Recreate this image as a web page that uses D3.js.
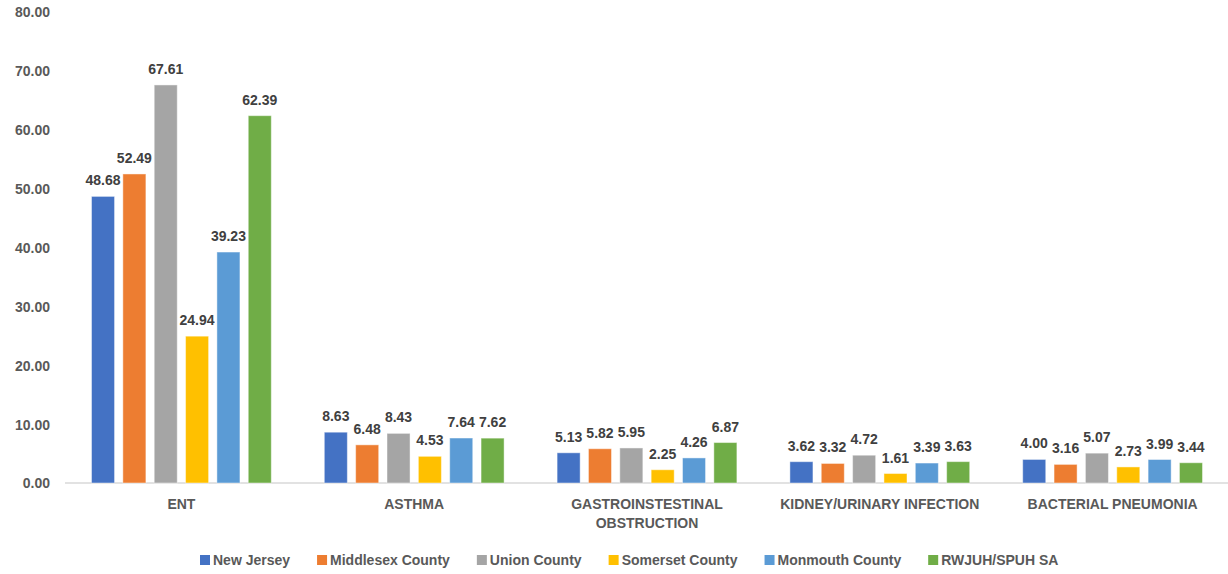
<!DOCTYPE html>
<html>
<head>
<meta charset="utf-8">
<script src="https://cdn.jsdelivr.net/npm/d3@7"></script>
<style>
  html, body { margin: 0; padding: 0; background: #ffffff; }
  svg { display: block; font-family: "Liberation Sans", Arial, sans-serif; }
</style>
</head>
<body>
<svg id="chart" width="1228" height="574"></svg>
<script>
// Rates by condition for each area
const categories = [
  ["ENT"],
  ["ASTHMA"],
  ["GASTROINSTESTINAL", "OBSTRUCTION"],
  ["KIDNEY/URINARY INFECTION"],
  ["BACTERIAL PNEUMONIA"]
];
const seriesNames = ["New Jersey", "Middlesex County", "Union County", "Somerset County", "Monmouth County", "RWJUH/SPUH SA"];
const seriesColors = ["#4472C4", "#ED7D31", "#A5A5A5", "#FFC000", "#5B9BD5", "#70AD47"];
const newJersey = [48.68, 8.63, 5.13, 3.62, 4.00];
const middlesex = [52.49, 6.48, 5.82, 3.32, 3.16];
const unionCounty = [67.61, 8.43, 5.95, 4.72, 5.07];
const somerset = [24.94, 4.53, 2.25, 1.61, 2.73];
const monmouth = [39.23, 7.64, 4.26, 3.39, 3.99];
const rwjuh = [62.39, 7.62, 6.87, 3.63, 3.44];
const yTicks = [0, 10, 20, 30, 40, 50, 60, 70, 80];

const seriesValues = [newJersey, middlesex, unionCounty, somerset, monmouth, rwjuh];
const catKeys = categories.map(c => c.join(" "));

const svg = d3.select("#chart");

const x0 = d3.scaleBand()
  .domain(catKeys)
  .range([65, 1229])
  .paddingInner(0.192)
  .paddingOuter(0.096);

const x1 = d3.scaleBand()
  .domain(seriesNames)
  .range([0, x0.bandwidth()])
  .paddingInner(0.265)
  .paddingOuter(0.1325);

const y = d3.scaleLinear().domain([0, 80]).range([483, 12]);

// Y axis labels (no axis line, no gridlines)
const yAxis = d3.axisLeft(y).tickValues(yTicks).tickFormat(d3.format(".2f")).tickSize(0).tickPadding(0);
const yg = svg.append("g").attr("transform", "translate(50,0)").call(yAxis);
yg.select(".domain").remove();
yg.selectAll("text")
  .attr("fill", "#595959")
  .style("font-size", "14px")
  .style("font-weight", "bold")
  .attr("dy", "0.35em");

// Category axis
const xAxis = d3.axisBottom(x0).tickSize(0).tickFormat(() => "");
const xg = svg.append("g").attr("transform", `translate(0,${y(0)})`).call(xAxis);
xg.select(".domain").attr("stroke", "#d9d9d9").attr("stroke-width", 1.5)
  .attr("d", "M65,0H1228");

const catLabels = svg.append("g");
categories.forEach((lines, i) => {
  const t = catLabels.append("text")
    .attr("x", x0(catKeys[i]) + x0.bandwidth() / 2)
    .attr("y", 509)
    .attr("text-anchor", "middle")
    .attr("fill", "#595959")
    .style("font-size", "14px")
    .style("font-weight", "bold");
  lines.forEach((ln, j) => {
    t.append("tspan")
      .attr("x", x0(catKeys[i]) + x0.bandwidth() / 2)
      .attr("dy", j === 0 ? 0 : 19)
      .text(ln);
  });
});

// Bars and value labels
const groups = svg.append("g").selectAll("g")
  .data(catKeys)
  .join("g")
  .attr("transform", d => `translate(${x0(d)},0)`);

groups.each(function(cat, ci) {
  const g = d3.select(this);
  const rows = seriesNames.map((s, si) => ({ s, si, v: seriesValues[si][ci] }));
  g.selectAll("rect")
    .data(rows)
    .join("rect")
    .attr("x", d => x1(d.s))
    .attr("y", d => y(d.v))
    .attr("width", x1.bandwidth())
    .attr("height", d => y(0) - y(d.v))
    .attr("fill", d => seriesColors[d.si])
    .attr("stroke", "#ffffff")
    .attr("stroke-opacity", 0.45)
    .attr("stroke-width", 1);
  g.selectAll("text.val")
    .data(rows)
    .join("text")
    .attr("class", "val")
    .attr("x", d => x1(d.s) + x1.bandwidth() / 2)
    .attr("y", d => y(d.v) - 11)
    .attr("text-anchor", "middle")
    .attr("fill", "#404040")
    .style("font-size", "14px")
    .style("font-weight", "bold")
    .text(d => d.v.toFixed(2));
});

// Legend
const legend = svg.append("g").attr("transform", "translate(200,560)");
let lx = 0;
seriesNames.forEach((name, i) => {
  const item = legend.append("g").attr("transform", `translate(${lx},0)`);
  item.append("rect")
    .attr("x", 0).attr("y", -5)
    .attr("width", 10).attr("height", 10)
    .attr("fill", seriesColors[i]);
  const t = item.append("text")
    .attr("x", 13).attr("y", 0).attr("dy", "0.35em")
    .attr("fill", "#595959")
    .style("font-size", "14px")
    .style("font-weight", "bold")
    .text(name);
  lx += 13 + t.node().getComputedTextLength() + 27;
});
</script>
</body>
</html>
